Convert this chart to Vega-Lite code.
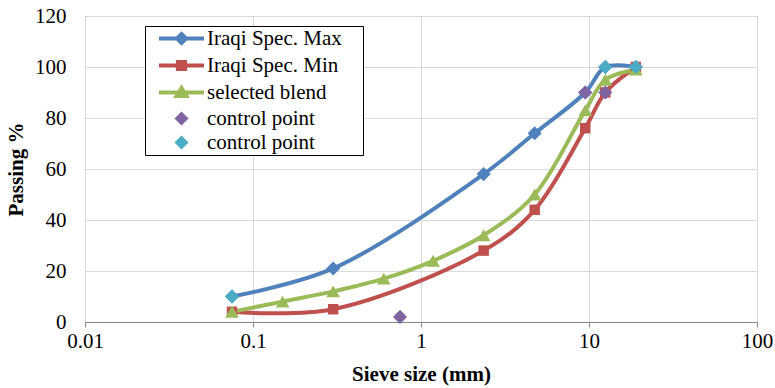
{
  "$schema": "https://vega.github.io/schema/vega-lite/v6.json",
  "width": 672,
  "height": 306,
  "autosize": "none",
  "padding": {"left": 85, "top": 16, "right": 18, "bottom": 66},
  "background": "white",
  "config": {
    "view": {"stroke": "black", "strokeWidth": 1},
    "font": "Liberation Serif",
    "axis": {
      "labelFont": "Liberation Serif",
      "labelFontSize": 21,
      "labelColor": "black",
      "labelFlush": false,
      "labelOverlap": false,
      "titleFont": "Liberation Serif",
      "titleFontSize": 21,
      "titleFontWeight": "bold",
      "titleColor": "black",
      "gridColor": "#D9D9D9",
      "gridWidth": 1,
      "domainColor": "#868686",
      "tickColor": "#868686"
    }
  },
  "data": {
    "values": [
      {"series": "Iraqi Spec. Max", "size": 0.075, "passing": 10},
      {"series": "Iraqi Spec. Max", "size": 0.3, "passing": 21},
      {"series": "Iraqi Spec. Max", "size": 2.36, "passing": 58},
      {"series": "Iraqi Spec. Max", "size": 4.75, "passing": 74},
      {"series": "Iraqi Spec. Max", "size": 9.5, "passing": 90},
      {"series": "Iraqi Spec. Max", "size": 12.5, "passing": 100},
      {"series": "Iraqi Spec. Max", "size": 19, "passing": 100},
      {"series": "Iraqi Spec. Min", "size": 0.075, "passing": 4},
      {"series": "Iraqi Spec. Min", "size": 0.3, "passing": 5},
      {"series": "Iraqi Spec. Min", "size": 2.36, "passing": 28},
      {"series": "Iraqi Spec. Min", "size": 4.75, "passing": 44},
      {"series": "Iraqi Spec. Min", "size": 9.5, "passing": 76},
      {"series": "Iraqi Spec. Min", "size": 12.5, "passing": 90},
      {"series": "Iraqi Spec. Min", "size": 19, "passing": 100},
      {"series": "selected blend", "size": 0.075, "passing": 4},
      {"series": "selected blend", "size": 0.15, "passing": 8},
      {"series": "selected blend", "size": 0.3, "passing": 12},
      {"series": "selected blend", "size": 0.6, "passing": 17},
      {"series": "selected blend", "size": 1.18, "passing": 24},
      {"series": "selected blend", "size": 2.36, "passing": 34},
      {"series": "selected blend", "size": 4.75, "passing": 50},
      {"series": "selected blend", "size": 9.5, "passing": 83},
      {"series": "selected blend", "size": 12.5, "passing": 95},
      {"series": "selected blend", "size": 19, "passing": 99},
      {"series": "cp1", "size": 9.5, "passing": 90},
      {"series": "cp1", "size": 12.5, "passing": 90},
      {"series": "cp1", "size": 0.75, "passing": 2},
      {"series": "cp2", "size": 0.075, "passing": 10},
      {"series": "cp2", "size": 12.5, "passing": 100},
      {"series": "cp2", "size": 19, "passing": 100}
    ]
  },
  "encoding": {
    "x": {
      "field": "size",
      "type": "quantitative",
      "title": "Sieve size (mm)",
      "scale": {"type": "log", "domain": [0.01, 100], "nice": false},
      "axis": {
        "values": [0.01, 0.1, 1, 10, 100],
        "format": "~g",
        "tickSize": 5,
        "labelPadding": 3,
        "titlePadding": 12,
        "grid": true
      }
    },
    "y": {
      "field": "passing",
      "type": "quantitative",
      "title": "Passing %",
      "scale": {"domain": [0, 120], "nice": false},
      "axis": {
        "values": [0, 20, 40, 60, 80, 100, 120],
        "ticks": false,
        "domain": false,
        "labelPadding": 19,
        "titlePadding": 8,
        "grid": true
      }
    },
    "color": {
      "field": "series",
      "type": "nominal",
      "scale": {
        "domain": ["Iraqi Spec. Max", "Iraqi Spec. Min", "selected blend", "cp1", "cp2"],
        "range": ["#4F81BD", "#C0504D", "#9BBB59", "#8064A2", "#4BACC6"]
      },
      "legend": {
        "title": null,
        "orient": "none",
        "legendX": 60,
        "legendY": 10,
        "padding": 2,
        "strokeColor": "black",
        "fillColor": "white",
        "labelFont": "Liberation Serif",
        "labelFontSize": 21,
        "labelColor": "black",
        "labelLimit": 400,
        "symbolSize": 100,
        "symbolStrokeWidth": 4,
        "symbolOffset": 24,
        "labelOffset": 15,
        "rowPadding": 2,
        "labelExpr": "(datum.label == 'cp1' || datum.label == 'cp2' ? 'control point' : datum.label) + '\u2002\u2005\u2006\u200b'",
        "encode": {
          "symbols": {
            "update": {
              "size": {"value": 2025},
              "fill": {"scale": "color", "field": "value"},
              "stroke": {"scale": "color", "field": "value"},
              "fillOpacity": {"value": 1},
              "strokeOpacity": {"value": 1},
              "opacity": {"value": 1},
              "strokeWidth": {"signal": "datum.value == 'cp1' || datum.value == 'cp2' ? 0.5 : 4"},
              "shape": {"signal": "datum.value == 'Iraqi Spec. Max' ? 'M-1,0L1,0M0,-0.2L0.2,0L0,0.2L-0.2,0Z' : datum.value == 'Iraqi Spec. Min' ? 'M-1,0L1,0M-0.16,-0.16L0.16,-0.16L0.16,0.16L-0.16,0.16Z' : datum.value == 'selected blend' ? 'M-1,0L1,0M0,-0.2L0.22,0.16L-0.22,0.16Z' : 'M0,-0.3L0.3,0L0,0.3L-0.3,0Z'"}
            }
          }
        }
      }
    }
  },
  "layer": [
    {
      "transform": [{"filter": "datum.series != 'cp1' && datum.series != 'cp2'"}],
      "mark": {"type": "line", "interpolate": "catmull-rom", "strokeWidth": 4},
      "encoding": {"detail": {"field": "series"}}
    },
    {
      "transform": [{"filter": "datum.series == 'Iraqi Spec. Max'"}],
      "mark": {"type": "point", "shape": "diamond", "filled": true, "opacity": 1, "size": 200}
    },
    {
      "transform": [{"filter": "datum.series == 'Iraqi Spec. Min'"}],
      "mark": {"type": "point", "shape": "square", "filled": true, "opacity": 1, "size": 110}
    },
    {
      "transform": [{"filter": "datum.series == 'selected blend'"}],
      "mark": {"type": "point", "shape": "triangle-up", "filled": true, "opacity": 1, "size": 190}
    },
    {
      "transform": [{"filter": "datum.series == 'cp1' || datum.series == 'cp2'"}],
      "mark": {"type": "point", "shape": "diamond", "filled": true, "opacity": 1, "size": 200}
    }
  ]
}
